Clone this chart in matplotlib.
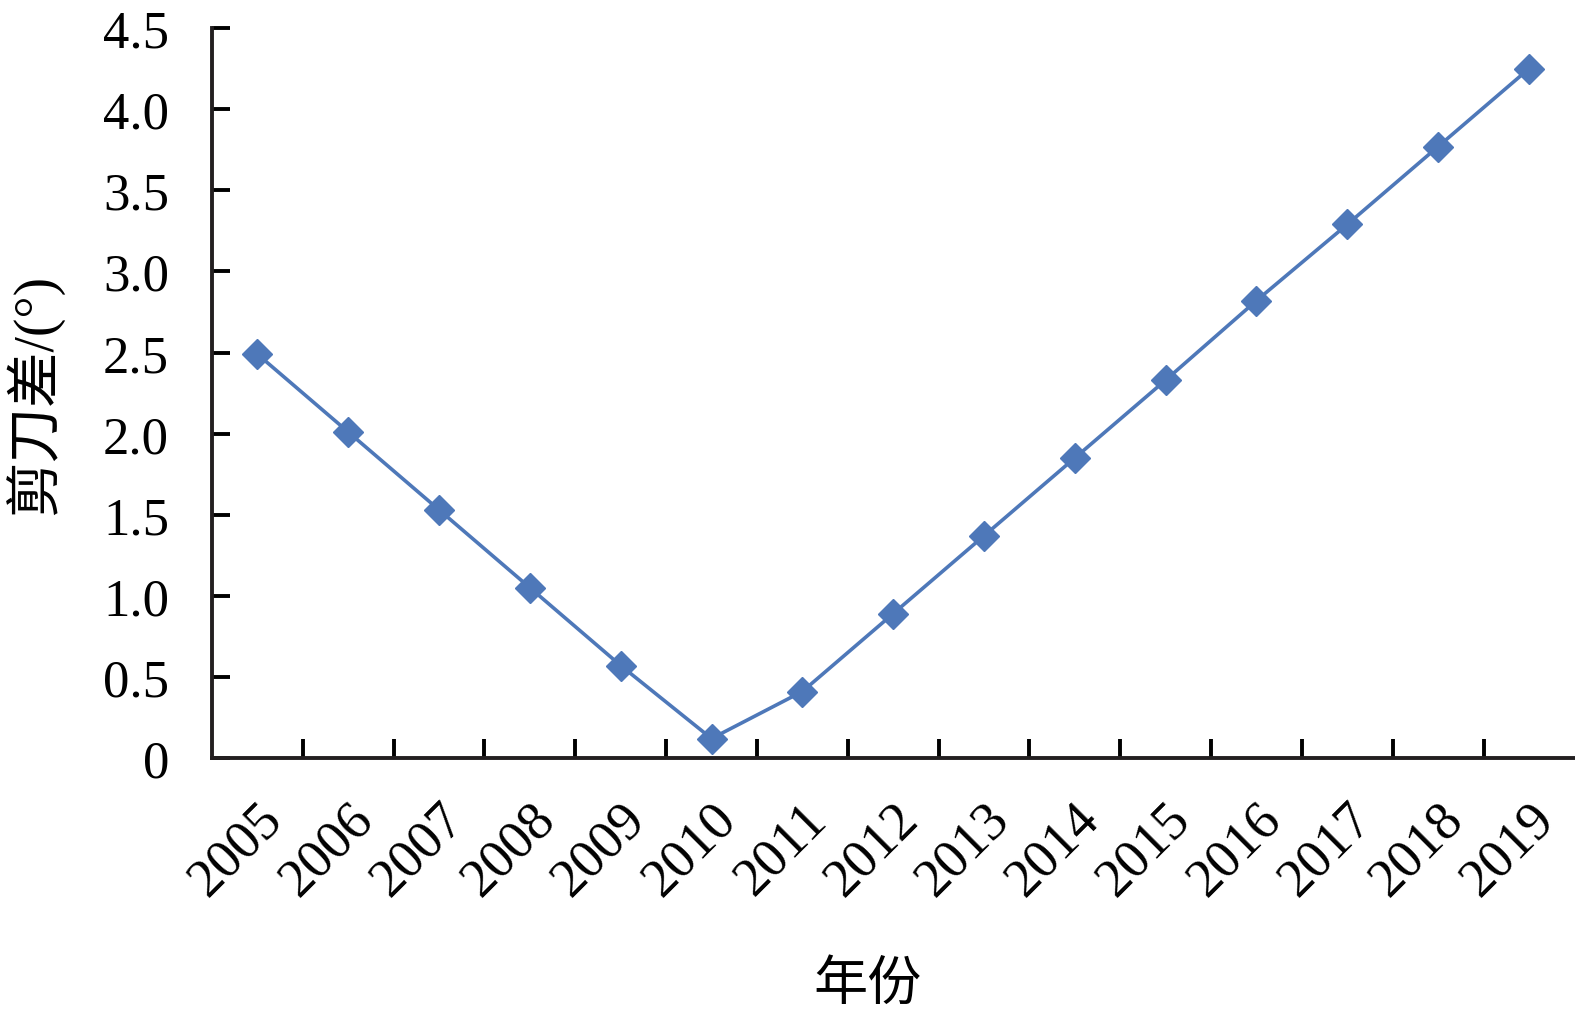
import matplotlib
matplotlib.use("Agg")
import matplotlib.pyplot as plt
from matplotlib.transforms import ScaledTranslation

years = ["2005", "2006", "2007", "2008", "2009", "2010", "2011", "2012",
         "2013", "2014", "2015", "2016", "2017", "2018", "2019"]
values = [2.49, 2.01, 1.53, 1.05, 0.57, 0.12, 0.41, 0.89,
          1.37, 1.85, 2.33, 2.82, 3.29, 3.77, 4.25]
yticks = [0, 0.5, 1.0, 1.5, 2.0, 2.5, 3.0, 3.5, 4.0, 4.5]
ytick_labels = ["0", "0.5", "1.0", "1.5", "2.0", "2.5", "3.0", "3.5", "4.0", "4.5"]

plt.rcParams['font.family'] = ['Liberation Serif', 'Noto Sans CJK SC', 'DejaVu Sans']

fig = plt.figure(figsize=(15.75, 10.12), dpi=100)
ax = fig.add_axes([0.1346, 0.25, 0.865, 0.7212])

color = '#4E78B9'
x = list(range(len(years)))
ax.plot(x, values, color=color, linewidth=2.6, marker='D', markersize=15,
        markerfacecolor=color, markeredgecolor=color, zorder=5, clip_on=False)

ax.set_xlim(-0.5, len(years) - 0.5)
ax.set_ylim(0, 4.5)
ax.set_yticks(yticks)
ax.set_yticklabels(ytick_labels, fontsize=38)

ax.set_xticks([i - 0.5 for i in range(1, len(years))])
ax.set_xticklabels([])
ax.set_xticks(x, minor=True)
ax.set_xticklabels(years, minor=True, fontsize=39, rotation=45,
                   ha='right', va='center', rotation_mode='anchor')
ax.tick_params(axis='x', which='minor', length=0, pad=38)
ax.tick_params(axis='x', which='major', direction='in', length=14, width=2.8)
ax.tick_params(axis='y', direction='in', length=13, width=2.8, pad=31)

offset = ScaledTranslation(0.17, 0.0, fig.dpi_scale_trans)
for lbl in ax.get_xticklabels(minor=True):
    lbl.set_transform(lbl.get_transform() + offset)

for s in ['top', 'right']:
    ax.spines[s].set_visible(False)
for s in ['left', 'bottom']:
    ax.spines[s].set_linewidth(2.8)
    ax.spines[s].set_color('#231F20')

ax.set_ylabel("剪刀差/(°)", fontsize=40, labelpad=28)
ax.set_xlabel("年份", fontsize=39, labelpad=40)
ax.xaxis.label.set_x(0.481)

fig.savefig("out.png", dpi=100)
